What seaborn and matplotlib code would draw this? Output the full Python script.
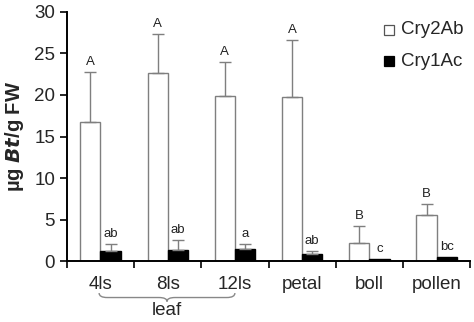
import matplotlib
matplotlib.use("Agg")
import matplotlib.pyplot as plt
from matplotlib.path import Path
from matplotlib.patches import PathPatch
import matplotlib.transforms as mtransforms
import numpy as np
import pandas as pd
import seaborn as sns

# Tissue categories and measured Bt protein (µg/g FW)
tissues = ["4ls", "8ls", "12ls", "petal", "boll", "pollen"]
cry2ab_mean = [16.8, 22.7, 19.9, 19.8, 2.2, 5.5]
cry2ab_sd = [6.0, 4.6, 4.1, 6.8, 2.0, 1.4]
cry2ab_letters = ["A", "A", "A", "A", "B", "B"]
cry1ac_mean = [1.25, 1.3, 1.5, 0.9, 0.2, 0.5]
cry1ac_sd = [0.8, 1.2, 0.6, 0.3, 0.0, 0.0]
cry1ac_letters = ["ab", "ab", "a", "ab", "c", "bc"]
proteins = ["Cry2Ab", "Cry1Ac"]

sns.set_style("ticks")
plt.rcParams["font.family"] = ["Liberation Sans", "DejaVu Sans"]

df = pd.DataFrame({
    "tissue": tissues * 2,
    "protein": [proteins[0]] * len(tissues) + [proteins[1]] * len(tissues),
    "value": cry2ab_mean + cry1ac_mean,
})

fig = plt.figure(figsize=(4.74, 3.22), dpi=100)
ax = fig.add_axes([0.141, 0.189, 0.851, 0.774])

sns.barplot(data=df, x="tissue", y="value", hue="protein", order=tissues,
            hue_order=proteins, palette={"Cry2Ab": "white", "Cry1Ac": "black"},
            width=0.6, errorbar=None, ax=ax, legend=False)

edge = "#7f7f7f"
groups = [(cry2ab_mean, cry2ab_sd, cry2ab_letters), (cry1ac_mean, cry1ac_sd, cry1ac_letters)]
for (means, sds, letters), bars in zip(groups, ax.containers):
    for bar, m, s, lab in zip(bars, means, sds, letters):
        bar.set_edgecolor(edge if bar.get_facecolor()[0] > 0.5 else "black")
        bar.set_linewidth(1.0)
        cx = bar.get_x() + bar.get_width() / 2
        if s > 0:
            ax.errorbar(cx, m, yerr=[[0], [s]], fmt="none", ecolor=edge,
                        elinewidth=1.0, capsize=4, capthick=1.0)
        ax.text(cx, m + s + 0.5, lab, ha="center", va="bottom",
                fontsize=9.5, color="#222222")

ax.set_ylim(0, 30)
ax.set_xlim(-0.5, len(tissues) - 0.5)
ax.set_yticks(np.arange(0, 31, 5))
ax.set_xticks(range(len(tissues)))
ax.set_xticklabels(tissues, fontsize=13.5)
ax.set_xticks(np.arange(-0.5, len(tissues), 1.0), minor=True)
ax.tick_params(axis="x", which="major", length=0, pad=11)
ax.tick_params(axis="x", which="minor", length=5, width=1.2, direction="out", color="black")
ax.tick_params(axis="y", labelsize=13.5, length=5, width=1.2, color="black")
ax.set_xlabel("")
ax.set_ylabel(r"µg $\bfit{Bt}$/g FW", fontsize=14.5, fontweight="bold", labelpad=6)
for side in ["left", "bottom"]:
    ax.spines[side].set_linewidth(1.4)
    ax.spines[side].set_color("black")
sns.despine(ax=ax)

# Legend: small squares with labels
for yy, face, name in [(0.928, "white", proteins[0]), (0.803, "black", proteins[1])]:
    ax.plot([0.799], [yy], marker="s", markersize=7, markerfacecolor=face,
            markeredgecolor="#555555" if face == "white" else "black",
            markeredgewidth=0.9, transform=ax.transAxes, clip_on=False, ls="none")
    ax.text(0.829, yy, name, transform=ax.transAxes, fontsize=13.5, va="center")

# Curly brace grouping the leaf stages
trans = mtransforms.blended_transform_factory(ax.transData, ax.transAxes)
x0, x1 = -0.02, 2.0
xm = (x0 + x1) / 2
ytop, ybot = -0.128, -0.162
ymid = ytop - 0.018
r = 0.12
verts = [(x0, ytop),
         (x0, ymid), (x0 + r, ymid),
         (xm - r, ymid),
         (xm, ymid), (xm, ybot),
         (xm, ymid), (xm + r, ymid),
         (x1 - r, ymid),
         (x1, ymid), (x1, ytop)]
codes = [Path.MOVETO,
         Path.CURVE3, Path.CURVE3,
         Path.LINETO,
         Path.CURVE3, Path.CURVE3,
         Path.CURVE3, Path.CURVE3,
         Path.LINETO,
         Path.CURVE3, Path.CURVE3]
brace = PathPatch(Path(verts, codes), fill=False, edgecolor="#888888",
                  lw=1.0, clip_on=False)
brace.set_transform(trans)
ax.add_artist(brace)
ax.text(xm, -0.197, "leaf", transform=trans, ha="center", va="center", fontsize=13.5)

fig.savefig("out.png", dpi=100)
